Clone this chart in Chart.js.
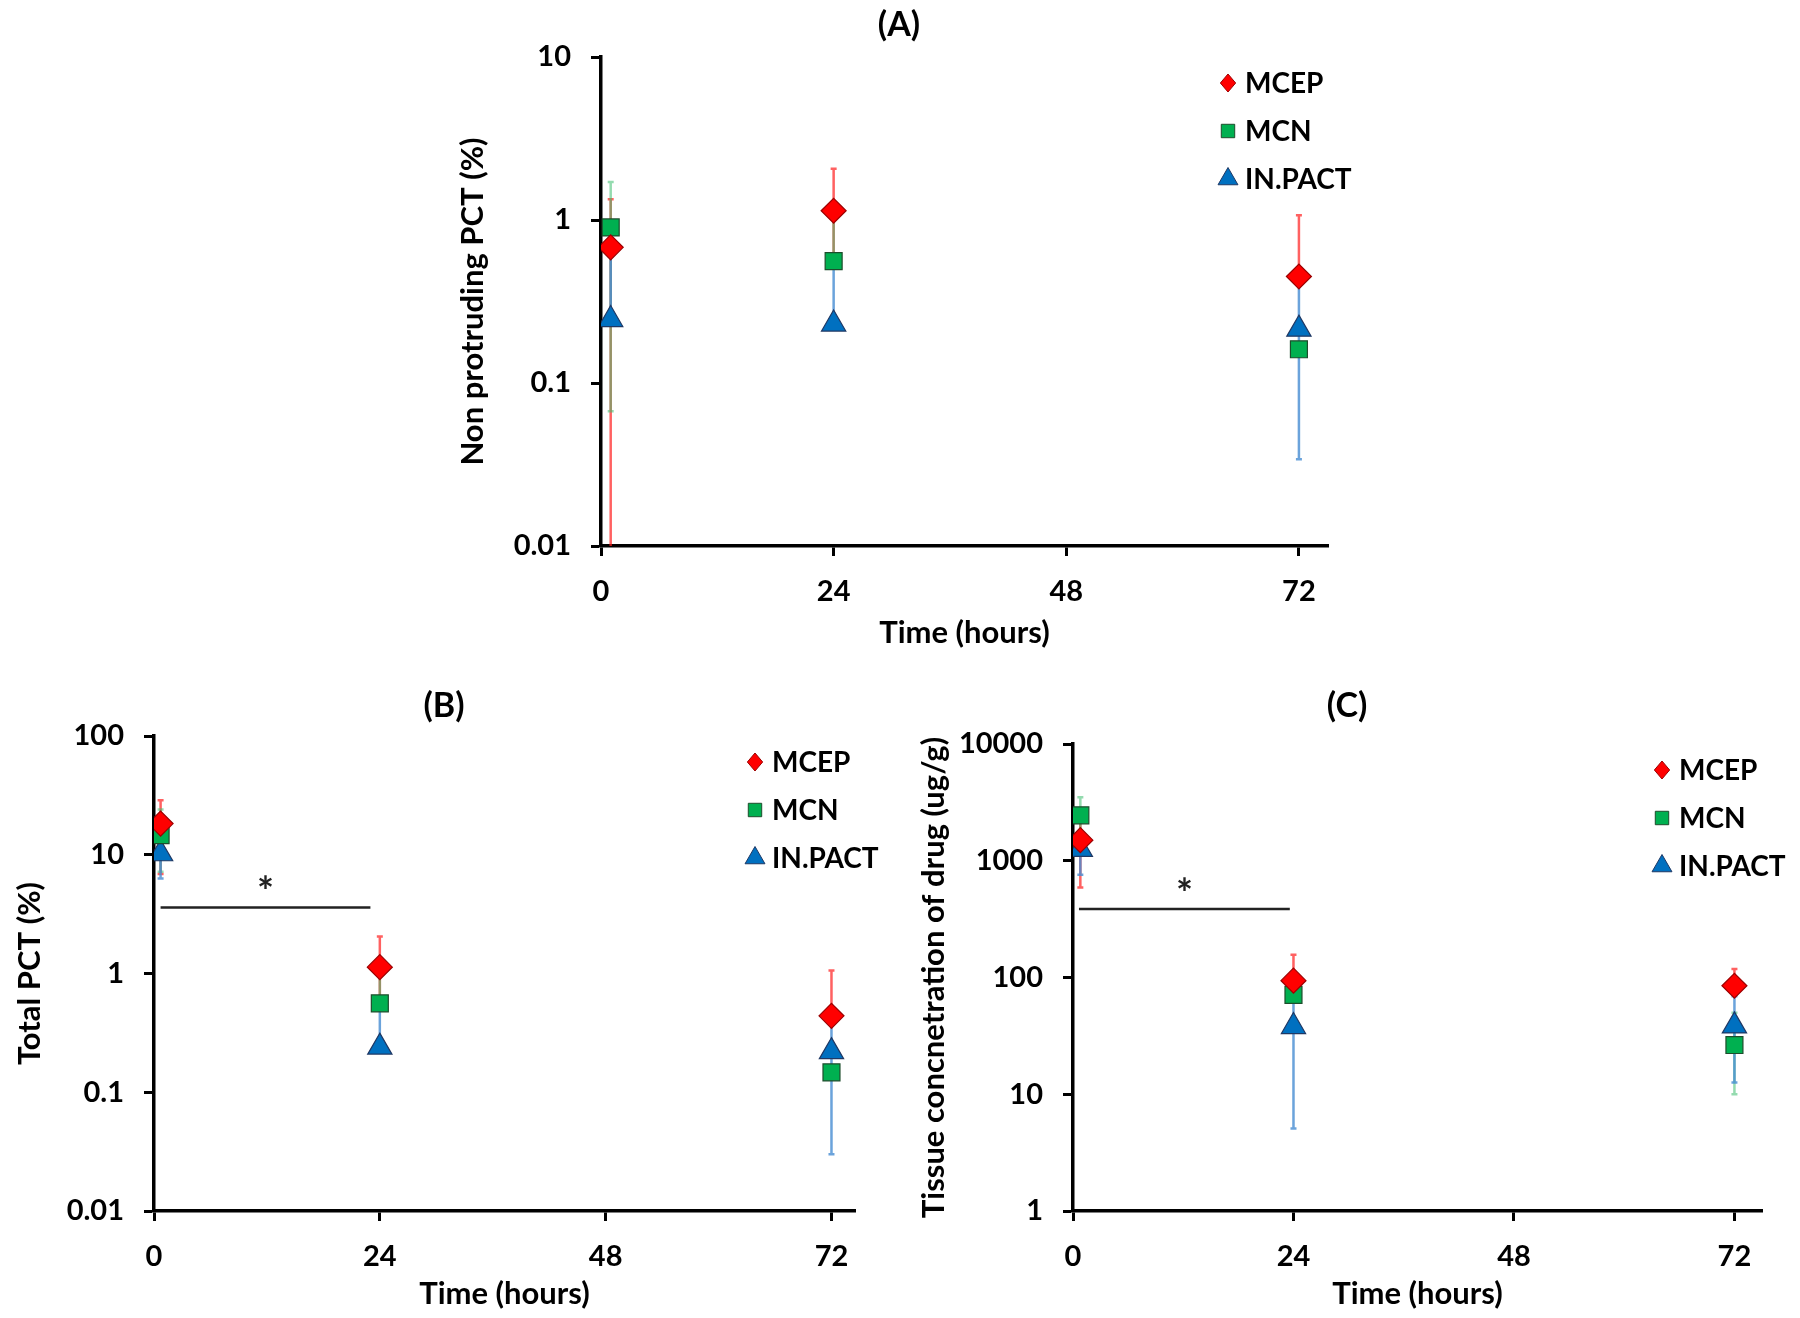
<!DOCTYPE html>
<html lang="en">
<head>
<meta charset="UTF-8">
<title>PCT and tissue drug concentration over time</title>
<script src="https://cdn.jsdelivr.net/npm/chart.js"></script>
<style>
  body { margin: 0; background: #fff; width: 1800px; height: 1318px; position: relative; overflow: hidden; }
  .panel { position: absolute; }
</style>
</head>
<body>
<div class="panel" style="left:440px;top:0;width:918px;height:660px"><canvas id="chartA"></canvas></div>
<div class="panel" style="left:0;top:676px;width:888px;height:642px"><canvas id="chartB"></canvas></div>
<div class="panel" style="left:904px;top:676px;width:886px;height:642px"><canvas id="chartC"></canvas></div>

<script>
// ---- data ----
const seriesNames = ["MCEP", "MCN", "IN.PACT"];
const xTicks = [0, 24, 48, 72];

// (A) non protruding PCT (%)
const timesA = [1, 24, 72];
const mcepA = [0.68, 1.14, 0.45];
const mcnA = [0.90, 0.56, 0.161];
const inpactA = [0.245, 0.23, 0.214];
const mcepA_lo = [0.001, 0.56, 0.45];
const mcepA_hi = [1.34, 2.06, 1.07];
const mcnA_lo = [0.067, 0.56, 0.161];
const mcnA_hi = [1.71, 1.14, 0.161];
const inpactA_lo = [0.245, 0.23, 0.034];
const inpactA_hi = [0.60, 0.56, 0.45];
const yTicksA = [0.01, 0.1, 1, 10];

// (B) total PCT (%)
const timesB = [0.7, 24, 72];
const mcepB = [18.3, 1.13, 0.44];
const mcnB = [14.6, 0.56, 0.147];
const inpactB = [10.2, 0.24, 0.22];
const mcepB_lo = [6.9, 0.56, 0.44];
const mcepB_hi = [28.8, 2.05, 1.06];
const mcnB_lo = [7.2, 0.56, 0.147];
const mcnB_hi = [24, 1.13, 0.147];
const inpactB_lo = [6.3, 0.24, 0.03];
const inpactB_hi = [14.6, 0.56, 0.44];
const yTicksB = [0.01, 0.1, 1, 10, 100];
const sigB = [0.7, 23.0, 3.6]; // from, to (hours), level

// (C) tissue concentration of drug (ug/g)
const timesC = [0.8, 24, 72];
const mcepC = [1500, 94, 85];
const mcnC = [2450, 71, 26.4];
const inpactC = [1250, 38, 38.5];
const mcepC_lo = [590, 71, 85];
const mcepC_hi = [2450, 157, 118];
const mcnC_lo = [1500, 71, 10];
const mcnC_hi = [3500, 94, 50];
const inpactC_lo = [760, 5.1, 12.6];
const inpactC_hi = [1500, 71, 69];
const yTicksC = [1, 10, 100, 1000, 10000];
const sigC = [0.65, 23.6, 386];

// ---- styles ----
const FONT = "Lato, 'Open Sans', sans-serif";
const markerStyles = ["rectRot", "rect", "triangle"];
const markerRadius = [12.5, 12, 14];
const fills = ["#ff0000", "#00b050", "#0070c0"];
const edges = ["#9c0000", "#1d4d2c", "#1f3864"];
const errColors = ["rgba(255,30,30,0.7)", "rgba(60,190,110,0.55)", "rgba(70,140,210,0.8)"];

function drawMarker(ctx, style, x, y, r) {
  ctx.beginPath();
  if (style === "rectRot") {
    ctx.moveTo(x, y - r); ctx.lineTo(x + r * 0.85, y); ctx.lineTo(x, y + r); ctx.lineTo(x - r * 0.85, y);
  } else if (style === "rect") {
    const s = r * Math.SQRT1_2;
    ctx.rect(x - s, y - s, 2 * s, 2 * s);
  } else {
    ctx.moveTo(x, y - r);
    ctx.lineTo(x + r * Math.sin(2 * Math.PI / 3), y + r / 2);
    ctx.lineTo(x - r * Math.sin(2 * Math.PI / 3), y + r / 2);
  }
  ctx.closePath();
  ctx.fill(); ctx.stroke();
}

// panel letter above the plot
const panelTitle = {
  id: "panelTitle",
  afterDraw(chart, args, opts) {
    const { ctx, chartArea } = chart;
    ctx.save();
    ctx.fillStyle = "#000";
    ctx.font = "bold 34px " + FONT;
    ctx.textAlign = "center";
    ctx.textBaseline = "middle";
    ctx.fillText(opts.text, chartArea.left + opts.dx, chartArea.top - opts.dy);
    ctx.restore();
  }
};

// error bars under the markers
const errorBars = {
  id: "errorBars",
  beforeDatasetsDraw(chart) {
    const { ctx, chartArea, scales } = chart;
    ctx.save();
    ctx.beginPath();
    ctx.rect(chartArea.left, chartArea.top, chartArea.width, chartArea.height);
    ctx.clip();
    chart.data.datasets.forEach((ds, i) => {
      ctx.strokeStyle = errColors[i];
      ctx.lineWidth = 2.5;
      ds.data.forEach((p, k) => {
        const x = scales.x.getPixelForValue(p.x);
        const yl = scales.y.getPixelForValue(ds.errLo[k]);
        const yh = scales.y.getPixelForValue(ds.errHi[k]);
        ctx.beginPath();
        ctx.moveTo(x, yl); ctx.lineTo(x, yh);
        if (ds.errLo[k] < p.y) { ctx.moveTo(x - 3, yl); ctx.lineTo(x + 3, yl); }
        if (ds.errHi[k] > p.y) { ctx.moveTo(x - 3, yh); ctx.lineTo(x + 3, yh); }
        ctx.stroke();
      });
    });
    ctx.restore();
  }
};

// legend in the upper right of the plot
const cornerLegend = {
  id: "cornerLegend",
  afterDraw(chart) {
    const { ctx, chartArea } = chart;
    ctx.save();
    chart.data.datasets.forEach((ds, i) => {
      const x = chartArea.right - 100;
      const y = chartArea.top + 26 + i * 48;
      ctx.fillStyle = fills[i];
      ctx.strokeStyle = edges[i];
      ctx.lineWidth = 1;
      drawMarker(ctx, markerStyles[i], x, y, [9, 9.5, 11.5][i]);
      ctx.fillStyle = "#000";
      ctx.font = "bold 28px " + FONT;
      ctx.textBaseline = "middle";
      ctx.textAlign = "left";
      ctx.fillText(ds.label, x + 17, y + 1);
    });
    ctx.restore();
  }
};

// significance bar with star
const sigBar = {
  id: "sigBar",
  afterDatasetsDraw(chart, args, opts) {
    if (!opts.bar) return;
    const { ctx, scales } = chart;
    const [x0, x1, level] = opts.bar;
    const px0 = scales.x.getPixelForValue(x0);
    const px1 = scales.x.getPixelForValue(x1);
    const py = scales.y.getPixelForValue(level);
    ctx.save();
    ctx.strokeStyle = "#222";
    ctx.lineWidth = 2.5;
    ctx.beginPath();
    ctx.moveTo(px0, py); ctx.lineTo(px1, py);
    ctx.stroke();
    ctx.fillStyle = "#222";
    ctx.font = "bold 40px " + FONT;
    ctx.textAlign = "center";
    ctx.textBaseline = "middle";
    ctx.fillText("*", (px0 + px1) / 2, py - 14);
    ctx.restore();
  }
};

function makeChart(id, o) {
  const font = { family: FONT, weight: "bold", size: 29 };
  const titleFont = { family: FONT, weight: "bold", size: 31 };
  return new Chart(document.getElementById(id), {
    type: "scatter",
    data: {
      datasets: seriesNames.map((name, i) => ({
        label: name,
        data: o.times.map((t, k) => ({ x: t, y: o.values[i][k] })),
        pointStyle: markerStyles[i],
        pointRadius: markerRadius[i],
        pointHoverRadius: markerRadius[i],
        backgroundColor: fills[i],
        borderColor: edges[i],
        borderWidth: 1.2,
        errLo: o.lo[i],
        errHi: o.hi[i]
      }))
    },
    options: {
      responsive: true,
      maintainAspectRatio: false,
      animation: false,
      layout: { padding: { top: o.padTop, right: o.padRight } },
      plugins: {
        legend: { display: false },
        tooltip: { enabled: false },
        panelTitle: { text: o.title, dx: o.titleDx, dy: o.titleDy },
        sigBar: { bar: o.sig }
      },
      scales: {
        x: {
          type: "linear", min: 0, max: o.xMax,
          afterBuildTicks: s => { s.ticks = xTicks.map(v => ({ value: v })); },
          afterFit: s => { s.height = o.xAxisH; },
          grid: { drawOnChartArea: false, drawTicks: true, tickLength: 10, tickWidth: 3, tickColor: "#000" },
          border: { color: "#000", width: 3.5 },
          ticks: { color: "#000", font, padding: 18, maxRotation: 0 },
          title: { display: true, text: "Time (hours)", color: "#000", font: titleFont, padding: { top: 0, bottom: o.xTitlePad } }
        },
        y: {
          type: "logarithmic", min: o.yTicks[0], max: o.yTicks[o.yTicks.length - 1],
          afterBuildTicks: s => { s.ticks = o.yTicks.map(v => ({ value: v })); },
          afterFit: s => { s.width = o.yAxisW; },
          grid: { drawOnChartArea: false, drawTicks: true, tickLength: 10, tickWidth: 3, tickColor: "#000" },
          border: { color: "#000", width: 3.5 },
          ticks: { color: "#000", font, padding: 20, callback: v => String(v) },
          title: { display: true, text: o.yTitle, color: "#000", font: titleFont, padding: { top: o.yTitlePad, bottom: 0 } }
        }
      }
    },
    plugins: [errorBars, sigBar, cornerLegend, panelTitle]
  });
}

makeChart("chartA", {
  title: "(A)", yTitle: "Non protruding PCT (%)",
  times: timesA, values: [mcepA, mcnA, inpactA],
  lo: [mcepA_lo, mcnA_lo, inpactA_lo], hi: [mcepA_hi, mcnA_hi, inpactA_hi],
  yTicks: yTicksA, sig: null, xMax: 75,
  yAxisW: 161, xAxisH: 114, padRight: 30, padTop: 57,
  titleDx: 298, titleDy: 32, yTitlePad: 14, xTitlePad: 8
});

makeChart("chartB", {
  title: "(B)", yTitle: "Total PCT (%)",
  times: timesB, values: [mcepB, mcnB, inpactB],
  lo: [mcepB_lo, mcnB_lo, inpactB_lo], hi: [mcepB_hi, mcnB_hi, inpactB_hi],
  yTicks: yTicksB, sig: sigB, xMax: 74.5,
  yAxisW: 154, xAxisH: 107, padRight: 33, padTop: 60,
  titleDx: 290, titleDy: 30, yTitlePad: 11, xTitlePad: 5
});

makeChart("chartC", {
  title: "(C)", yTitle: "Tissue concnetration of drug (ug/g)",
  times: timesC, values: [mcepC, mcnC, inpactC],
  lo: [mcepC_lo, mcnC_lo, inpactC_lo], hi: [mcepC_hi, mcnC_hi, inpactC_hi],
  yTicks: yTicksC, sig: sigC, xMax: 75,
  yAxisW: 169, xAxisH: 107, padRight: 28, padTop: 68,
  titleDx: 274, titleDy: 38, yTitlePad: 11, xTitlePad: 5
});
</script>
</body>
</html>
